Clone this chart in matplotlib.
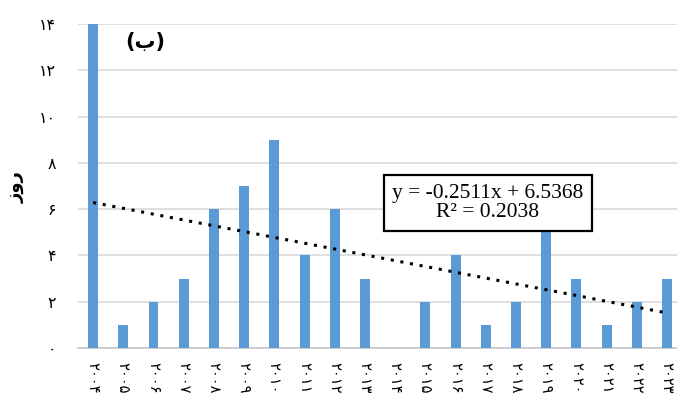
import matplotlib
matplotlib.use("Agg")
import matplotlib.pyplot as plt
import numpy as np

years = list(range(2004, 2024))
days = [14, 1, 2, 3, 6, 7, 9, 4, 6, 3, 0, 2, 4, 1, 2, 5, 3, 1, 2, 3]
slope, intercept = -0.2511, 6.5368
yticks = [0, 2, 4, 6, 8, 10, 12, 14]

fa_digits = str.maketrans("0123456789", "۰۱۲۳۴۵۶۷۸۹")


def fa(n):
    return str(n).translate(fa_digits)


plt.rcParams['font.family'] = ['DejaVu Sans']

fig = plt.figure(figsize=(6.77, 4.01), dpi=100)
ax = fig.add_axes([78 / 677, 53 / 401, 1 - 78 / 677, 324 / 401])

x = np.arange(len(years))
ax.bar(x, days, width=0.33, color='#5b9bd5', zorder=3)

# linear trend (Excel style, x = 1..n)
xt = x + 1
ax.plot(x, slope * xt + intercept, color='black', linestyle=(0, (1, 2.2)),
        linewidth=2.2, zorder=4)

ax.set_xlim(-0.5, 19 + 10 / 30.2)
ax.set_ylim(0, 14)
ax.set_yticks(yticks)
ax.set_yticklabels([fa(t) for t in yticks], fontsize=11.5)
ax.set_xticks(x)
ax.set_xticklabels([fa(y) for y in years], rotation=-90, fontsize=10.5)
ax.tick_params(axis='both', length=0)
ax.tick_params(axis='y', pad=16)
ax.tick_params(axis='x', pad=10)

ax.grid(axis='y', color='#d9d9d9', linewidth=1.2, zorder=0)
for s in ['left', 'right', 'top']:
    ax.spines[s].set_visible(False)
ax.spines['bottom'].set_color('#c8c8c8')
ax.spines['bottom'].set_linewidth(1.2)

# y-axis title (RTL word, characters are non-joining so visual order is reversed)
fig.text(16 / 677, 1 - 187 / 401, 'زور', rotation=90, fontsize=13,
         fontweight='bold', ha='center', va='center')

ax.text(0.112, 0.944, '(ب)', transform=ax.transAxes, fontsize=15,
        fontweight='bold', ha='center', va='center')

ax.text(0.684, 0.4475, 'y = -0.2511x + 6.5368\nR² = 0.2038',
        transform=ax.transAxes, ha='center', va='center', fontsize=15.5,
        family='Liberation Serif', linespacing=1.05, zorder=6,
        bbox=dict(boxstyle='square,pad=0.38', facecolor='white',
                  edgecolor='black', linewidth=1.6))

fig.savefig('out.png', dpi=100)
